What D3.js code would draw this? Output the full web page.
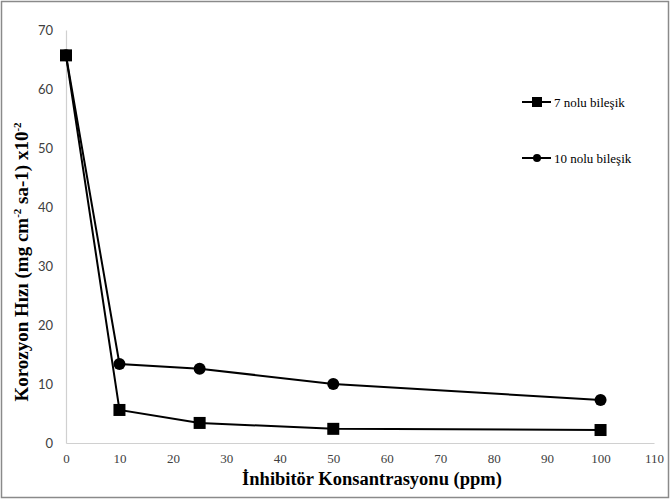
<!DOCTYPE html>
<html>
<head>
<meta charset="utf-8">
<script src="https://cdn.jsdelivr.net/npm/d3@7"></script>
<style>
body{margin:0;background:#fff}
.serif{font-family:"Liberation Serif","Times New Roman","DejaVu Serif",serif}
</style>
</head>
<body>
<svg width="670" height="500"></svg>
<script>
// konsantrasyon degerleri (ppm)
var conc = [0, 10, 25, 50, 100]
var bilesik7 = [65.7, 5.6, 3.4, 2.4, 2.2]
var bilesik10 = [65.7, 13.4, 12.6, 10.0, 7.3]
var seriesNames = ["7 nolu bileşik", "10 nolu bileşik"]
var xTicks = [0, 10, 20, 30, 40, 50, 60, 70, 80, 90, 100, 110]
var yTicks = [0, 10, 20, 30, 40, 50, 60, 70]

var screen = {width: 670, height: 500}
var margin = {left: 66, right: 16, top: 30, bottom: 57}

var svg = d3.select("svg")

svg.append("rect")
    .attr("x", 1.5).attr("y", 1.5)
    .attr("width", screen.width - 3).attr("height", screen.height - 4)
    .attr("fill", "none").attr("stroke", "#8a8a8a").attr("stroke-width", 1.5)

var xscale = d3.scaleLinear()
    .domain([0, 110])
    .range([margin.left, screen.width - margin.right])
var yscale = d3.scaleLinear()
    .domain([0, 70])
    .range([screen.height - margin.bottom, margin.top])

// eksenler
var xAxis = svg.append("g")
    .attr("transform", "translate(0," + yscale(0) + ")")
    .call(d3.axisBottom(xscale).tickValues(xTicks).tickSize(0).tickPadding(11))
xAxis.attr("font-family", null).attr("font-size", null)
xAxis.select(".domain").attr("stroke", "#d0d0d0").attr("stroke-width", 1.2)
xAxis.selectAll("text")
    .attr("class", "serif")
    .style("font-size", "13px").attr("fill", "#404040")

var yAxis = svg.append("g")
    .attr("transform", "translate(" + xscale(0) + ",0)")
    .call(d3.axisLeft(yscale).tickValues(yTicks).tickSize(0).tickPadding(13))
yAxis.attr("font-family", null).attr("font-size", null)
yAxis.select(".domain").attr("stroke", "#d0d0d0").attr("stroke-width", 1.2)
yAxis.selectAll("text")
    .style("font-family", "Lato, 'Open Sans', sans-serif")
    .style("font-size", "13px").attr("fill", "#404040")

// cizgiler
var line = d3.line()
    .x(function(d, i) {return xscale(conc[i])})
    .y(function(d) {return yscale(d)})

svg.append("path").datum(bilesik10)
    .attr("d", line).attr("fill", "none").attr("stroke", "#000").attr("stroke-width", 2)
svg.append("path").datum(bilesik7)
    .attr("d", line).attr("fill", "none").attr("stroke", "#000").attr("stroke-width", 2)

svg.selectAll("circle.b10").data(bilesik10).enter()
    .append("circle").attr("class", "b10")
    .attr("cx", function(d, i) {return xscale(conc[i])})
    .attr("cy", function(d) {return yscale(d)})
    .attr("r", 6).attr("fill", "#000")

svg.selectAll("rect.b7").data(bilesik7).enter()
    .append("rect").attr("class", "b7")
    .attr("x", function(d, i) {return xscale(conc[i]) - 6})
    .attr("y", function(d) {return yscale(d) - 6})
    .attr("width", 12).attr("height", 12).attr("fill", "#000")

// legend
var legendY = [102, 158]
seriesNames.forEach(function(name, i) {
    var g = svg.append("g").attr("transform", "translate(522," + legendY[i] + ")")
    g.append("line").attr("x1", 0).attr("x2", 29).attr("y1", 0).attr("y2", 0)
        .attr("stroke", "#000").attr("stroke-width", 2)
    if (i == 0) {
        g.append("rect").attr("x", 10).attr("y", -5).attr("width", 10).attr("height", 10).attr("fill", "#000")
    } else {
        g.append("circle").attr("cx", 15).attr("cy", 0).attr("r", 4).attr("fill", "#000")
    }
    g.append("text").attr("x", 32).attr("y", 4.5)
        .attr("class", "serif")
        .style("font-size", "13px").attr("fill", "#000")
        .text(name)
})

// eksen basliklari
svg.append("text")
    .attr("x", 372).attr("y", 485)
    .attr("text-anchor", "middle")
    .attr("class", "serif")
    .style("font-weight", "bold").style("font-size", "18.5px")
    .text("İnhibitör Konsantrasyonu (ppm)")

var ylab = svg.append("text")
    .attr("transform", "translate(28,262) rotate(-90)")
    .attr("text-anchor", "middle")
    .attr("class", "serif")
    .style("font-weight", "bold").style("font-size", "19px")
ylab.append("tspan").text("Korozyon Hızı (mg cm")
ylab.append("tspan").attr("dy", -7).style("font-size", "11px").text("-2")
ylab.append("tspan").attr("dy", 7).text(" sa-1) x10")
ylab.append("tspan").attr("dy", -7).style("font-size", "11px").text("-2")
</script>
</body>
</html>
